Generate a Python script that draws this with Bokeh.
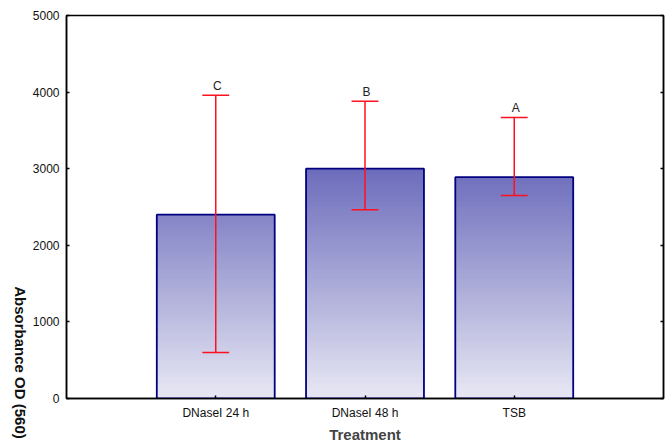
import numpy as np
from bokeh.plotting import figure
from bokeh.layouts import row, column
from bokeh.models import Range1d, FixedTicker, LinearAxis, ColumnDataSource
from bokeh.core.properties import value
from bokeh.embed import file_html
from bokeh.resources import INLINE

categories = ["DNaseI 24 h", "DNaseI 48 h", "TSB"]
means = [2400, 3000, 2890]
err_upper = [3960, 3880, 3670]
err_lower = [600, 2465, 2650]
letters = ["C", "B", "A"]
y_ticks = [0, 1000, 2000, 3000, 4000, 5000]
y_title = "Absorbance OD (560)"
x_title = "Treatment"

FONT = "Liberation Sans"
xpos = [1, 2, 3]
bar_w = 0.79

# narrow strip carrying the rotated y-axis title (screen-like coordinates, y up)
side = figure(width=28, height=445, output_backend="svg", toolbar_location=None,
              x_range=Range1d(0, 28), y_range=Range1d(0, 445),
              x_axis_location=None, y_axis_location=None, min_border=0)
side.grid.visible = False
side.outline_line_color = None
side.text(x=[20], y=[83], text=[y_title], angle=-np.pi / 2, text_align="center",
          text_baseline="middle", text_font=value(FONT), text_font_style="bold",
          text_font_size="15px", text_color="#111111")

p = figure(width=644, height=445, output_backend="svg", toolbar_location=None,
           x_range=Range1d(0, 4), y_range=Range1d(0, 5000),
           min_border_left=38, min_border_right=9, min_border_top=15, min_border_bottom=47)
p.grid.visible = False
p.outline_line_color = "black"
p.outline_line_width = 1.5
p.background_fill_color = "white"
p.border_fill_color = "white"

# gradient fill emulated with thin overlapping slices (color depends on absolute y)
light = np.array([0xe8, 0xe8, 0xf4])
dark = np.array([0x6c, 0x6c, 0xbc])
step = 20.0
l, r, b, t, c = [], [], [], [], []
for xi, m in zip(xpos, means):
    ys = np.arange(0, m, step)
    for y0 in ys:
        y1 = min(y0 + step * 1.6, m)
        f = min(((y0 + step / 2)) / 3000.0, 1.0)
        col = light + (dark - light) * f
        l.append(xi - bar_w / 2); r.append(xi + bar_w / 2)
        b.append(y0); t.append(y1)
        c.append("#%02x%02x%02x" % tuple(int(round(v)) for v in col))
p.quad(left=l, right=r, bottom=b, top=t, fill_color=c, line_color=None)
p.quad(left=[x - bar_w / 2 for x in xpos], right=[x + bar_w / 2 for x in xpos],
       bottom=[0] * 3, top=means, fill_color=None, line_color="#000080", line_width=1.8)

# error bars
src = ColumnDataSource(dict(x=xpos, up=err_upper, lo=err_lower, lab=letters))
p.segment(x0="x", y0="lo", x1="x", y1="up", source=src, line_color="#ff1020", line_width=1.5)
cap = 0.18
p.segment(x0=[x - cap / 2 for x in xpos], y0=err_upper, x1=[x + cap / 2 for x in xpos], y1=err_upper,
          line_color="#ff1020", line_width=1.5)
p.segment(x0=[x - cap / 2 for x in xpos], y0=err_lower, x1=[x + cap / 2 for x in xpos], y1=err_lower,
          line_color="#ff1020", line_width=1.5)
p.text(x=[x + 0.01 for x in xpos], y=err_upper, text=letters, text_align="center",
       text_baseline="bottom", y_offset=-2, text_font=value(FONT), text_font_size="12px",
       text_color="#222222")

# axes
for ax in (p.xaxis, p.yaxis):
    ax.axis_line_color = "black"
    ax.axis_line_width = 1.5
    ax.major_tick_line_color = "black"
    ax.major_tick_line_width = 1.5
    ax.major_tick_in = 3
    ax.major_tick_out = 0
    ax.minor_tick_line_color = None
    ax.major_label_text_font = FONT
    ax.major_label_text_font_size = "12px"
    ax.major_label_text_color = "#111111"

p.xaxis.ticker = FixedTicker(ticks=xpos)
p.xaxis.major_label_overrides = {x: cat for x, cat in zip(xpos, categories)}
p.xaxis.major_label_standoff = 7
p.xaxis.axis_label = x_title
p.xaxis.axis_label_text_font = FONT
p.xaxis.axis_label_text_font_style = "bold"
p.xaxis.axis_label_text_font_size = "15px"
p.xaxis.axis_label_standoff = 3

p.yaxis.ticker = FixedTicker(ticks=y_ticks)
p.yaxis.major_label_standoff = 7

right = LinearAxis(ticker=FixedTicker(ticks=y_ticks),
                   major_label_overrides={v: "" for v in y_ticks},
                   axis_line_color="black", axis_line_width=1.5, major_tick_in=3, major_tick_out=0,
                   major_tick_line_width=1.5, minor_tick_line_color=None, major_label_standoff=0)
p.add_layout(right, "right")

layout = row(column(side, spacing=0), column(p, spacing=0), spacing=0)
open("out.html", "w").write(file_html(layout, INLINE))
